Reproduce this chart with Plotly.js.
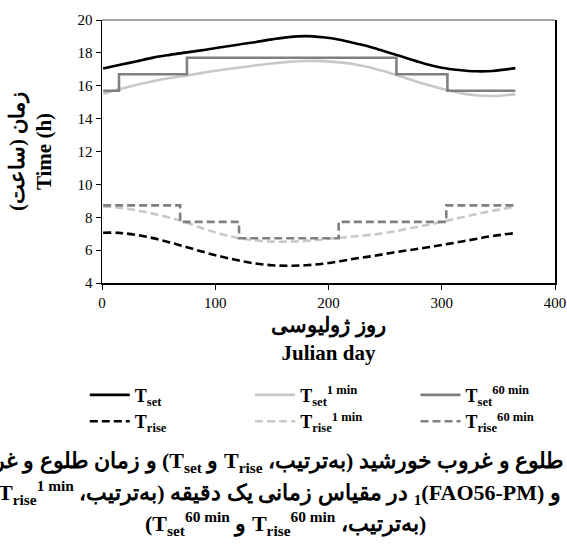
<!DOCTYPE html>
<html><head><meta charset="utf-8">
<script src="https://cdn.plot.ly/plotly-3.0.1.min.js"></script>
<style>body{margin:0;background:#fff}</style>
</head><body>
<div id="chart" style="width:567px;height:549px"></div>
<script>
// Julian day sampling of the continuous curves
const days = [1,15,30,45,60,75,90,105,120,135,150,165,180,195,210,225,240,255,270,285,300,315,330,345,365];
// Sunset / sunrise (h)
const tSet    = [17.05,17.26,17.48,17.71,17.88,18.03,18.18,18.34,18.50,18.65,18.82,18.96,19.02,18.95,18.80,18.56,18.30,17.98,17.66,17.34,17.10,16.96,16.88,16.90,17.07];
const tRise   = [7.06,7.05,6.93,6.73,6.47,6.18,5.88,5.61,5.38,5.19,5.08,5.05,5.08,5.17,5.32,5.50,5.65,5.83,5.99,6.14,6.31,6.49,6.68,6.86,7.04];
// 1-min time-step (FAO56-PM)
const tSet1   = [15.50,15.78,16.05,16.28,16.47,16.63,16.80,16.96,17.10,17.23,17.35,17.45,17.51,17.50,17.42,17.28,17.05,16.76,16.43,16.10,15.82,15.58,15.42,15.38,15.49];
const tRise1  = [8.66,8.58,8.43,8.22,7.97,7.66,7.30,6.98,6.74,6.60,6.52,6.52,6.56,6.65,6.75,6.85,6.95,7.10,7.30,7.50,7.72,7.95,8.18,8.40,8.64];
// 60-min time-step (step functions)
const setStepDays  = [1,15,75,260,305,365];
const tSet60       = [15.7,16.7,17.7,16.7,15.7,15.7];
const riseStepDays = [1,69,121,209,304,365];
const tRise60      = [8.72,7.72,6.72,7.72,8.72,8.72];
// Axis ticks
const xTicks = [0,100,200,300,400];
const yTicks = [4,6,8,10,12,14,16,18,20];

const RLE = '\u202B', PDF = '\u202C';
const serif = 'Liberation Serif, Times New Roman, DejaVu Serif, serif';
const lightGray = '#c8c8c8', midGray = '#808080';
const dashP = '8px,4px';

function tr(x, y, name, color, dash, shape, legend, grp) {
  return {x: x, y: y, name: name, type: 'scatter', mode: 'lines',
    line: {color: color, width: 2.6, dash: dash, shape: shape, smoothing: 1},
    legend: legend, legendgroup: grp, hoverinfo: 'skip'};
}

const data = [
  tr(days, tSet1, '<b>T<sub>set</sub><sup>1 min</sup></b>', lightGray, 'solid', 'spline', 'legend2', 'a'),
  tr(days, tRise1, '<b>T<sub>rise</sub><sup>1 min</sup></b>', lightGray, dashP, 'spline', 'legend2', 'b'),
  tr(setStepDays, tSet60, '<b>T<sub>set</sub><sup>60 min</sup></b>', midGray, 'solid', 'hv', 'legend3', 'c'),
  tr(riseStepDays, tRise60, '<b>T<sub>rise</sub><sup>60 min</sup></b>', midGray, dashP, 'hv', 'legend3', 'd'),
  tr(days, tSet, '<b>T<sub>set</sub></b>', '#000', 'solid', 'spline', 'legend', 'e'),
  tr(days, tRise, '<b>T<sub>rise</sub></b>', '#000', dashP, 'spline', 'legend', 'f')
];

const legFont = {family: serif, size: 18, color: '#000'};
function leg(x) {
  return {x: x, y: -0.356, xanchor: 'left', yanchor: 'top', orientation: 'v',
    font: legFont, itemwidth: 40, tracegroupgap: 0, bgcolor: 'rgba(0,0,0,0)', itemclick: false, itemdoubleclick: false};
}

const capFont = {family: serif, size: 22, color: '#000'};
const layout = {
  width: 567, height: 549,
  margin: {l: 102, r: 12, t: 20, b: 266},
  paper_bgcolor: '#fff', plot_bgcolor: '#fff',
  font: {family: serif, color: '#000'},
  showlegend: true,
  xaxis: {range: [0, 400], tickvals: xTicks, ticks: 'outside', ticklen: 5, tickcolor: '#000',
    showline: true, linecolor: '#000', linewidth: 1.5, showgrid: false, zeroline: false,
    tickfont: {family: serif, size: 15, color: '#000'},
    title: {text: '<b>روز ژولیوسی</b><br><b>Julian day</b>', font: {family: serif, size: 21, color: '#000'}, standoff: 8}},
  yaxis: {range: [4, 20], tickvals: yTicks, ticks: 'outside', ticklen: 5, tickcolor: '#000',
    showline: true, mirror: true, linecolor: '#000', linewidth: 1.5, showgrid: false, zeroline: false,
    tickfont: {family: serif, size: 15, color: '#000'},
    title: {text: '<b>' + RLE + 'زمان (ساعت)' + PDF + '</b><br><b>Time (h)</b>', font: {family: serif, size: 21, color: '#000'}, standoff: 20}},
  legend: leg(-0.038),
  legend2: leg(0.327),
  legend3: leg(0.692),
  shapes: [{type: 'line', xref: 'paper', yref: 'paper', x0: 0, x1: 1, y0: 1, y1: 1, line: {color: '#888', width: 1.5}}],
  annotations: [
    {xref: 'paper', yref: 'paper', x: 1.14, y: -0.681, xanchor: 'right', yanchor: 'middle', showarrow: false, font: capFont,
     text: '<b>' + RLE + 'زمان طلوع و غروب خورشید (به‌ترتیب، T<sub>rise</sub> و T<sub>set</sub>) و زمان طلوع و غروب خورشید' + PDF + '</b>'},
    {xref: 'paper', yref: 'paper', x: -0.234, y: -0.798, xanchor: 'left', yanchor: 'middle', showarrow: false, font: capFont,
     text: '<b>' + RLE + 'و (FAO56-PM)<sub>1</sub> در مقیاس زمانی یک دقیقه (به‌ترتیب، T<sub>rise</sub><sup>1 min</sup>' + PDF + '</b>'},
    {xref: 'paper', yref: 'paper', x: 0.404, y: -0.913, xanchor: 'center', yanchor: 'middle', showarrow: false, font: capFont,
     text: '<b>' + RLE + '(به‌ترتیب، T<sub>rise</sub><sup>60 min</sup> و T<sub>set</sub><sup>60 min</sup>)' + PDF + '</b>'}
  ]
};

Plotly.newPlot('chart', data, layout, {staticPlot: true, displayModeBar: false});
</script>
</body></html>
